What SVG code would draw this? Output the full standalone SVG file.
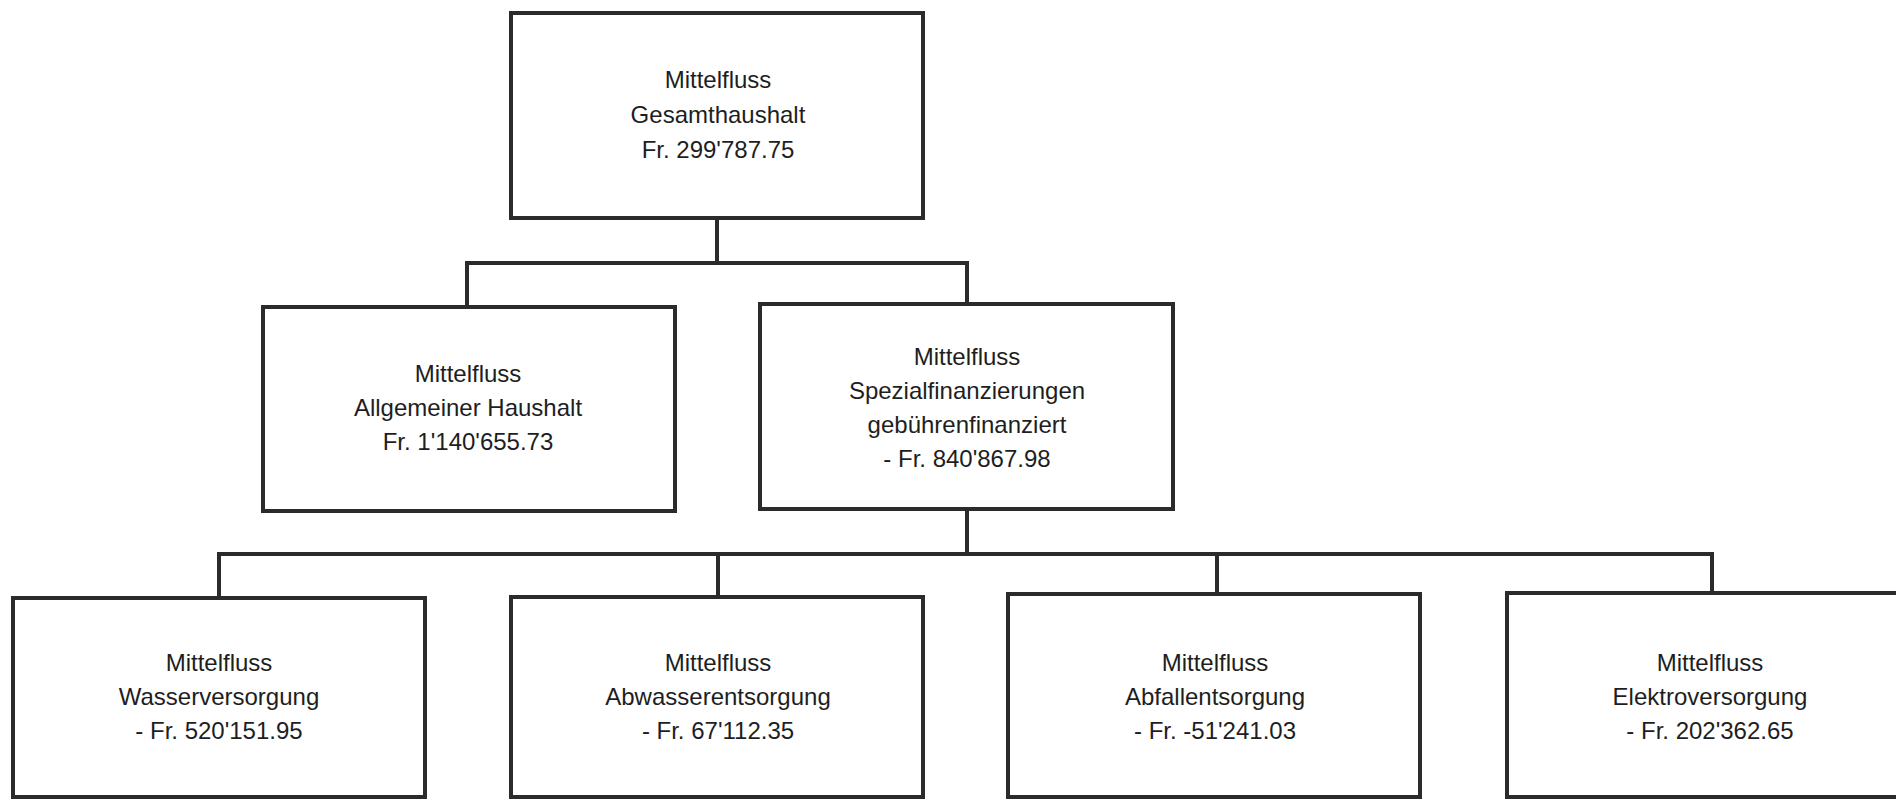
<svg xmlns="http://www.w3.org/2000/svg" width="1896" height="800" viewBox="0 0 1896 800">
<style>
.box{fill:#fff;stroke:#2b2b2b;stroke-width:4}
.con{fill:none;stroke:#2b2b2b;stroke-width:4}
text{font-family:"Liberation Sans",Arial,sans-serif;font-size:24px;fill:#1e1e1e;text-anchor:middle}
</style>
<rect width="1896" height="800" fill="#fff"/>
<g id="connectors">
<path class="con" d="M717 218V263M467 306V263H967V304"/>
<path class="con" d="M967 509V554M219 598V554H1712V593M718 554V597M1217 554V594"/>
</g>
<g id="n-gesamt"><rect class="box" x="511" y="13" width="412" height="205"/>
<text x="718" y="88">Mittelfluss</text><text x="718" y="123">Gesamthaushalt</text><text x="718" y="158">Fr. 299'787.75</text></g>
<g id="n-allgemein"><rect class="box" x="263" y="307" width="412" height="204"/>
<text x="468" y="382">Mittelfluss</text><text x="468" y="416">Allgemeiner Haushalt</text><text x="468" y="450">Fr. 1'140'655.73</text></g>
<g id="n-spezial"><rect class="box" x="760" y="304" width="413" height="205"/>
<text x="967" y="365">Mittelfluss</text><text x="967" y="399">Spezialfinanzierungen</text><text x="967" y="433">gebührenfinanziert</text><text x="967" y="467">- Fr. 840'867.98</text></g>
<g id="n-wasser"><rect class="box" x="13" y="598" width="412" height="199"/>
<text x="219" y="671">Mittelfluss</text><text x="219" y="705">Wasserversorgung</text><text x="219" y="739">- Fr. 520'151.95</text></g>
<g id="n-abwasser"><rect class="box" x="511" y="597" width="412" height="200"/>
<text x="718" y="671">Mittelfluss</text><text x="718" y="705">Abwasserentsorgung</text><text x="718" y="739">- Fr. 67'112.35</text></g>
<g id="n-abfall"><rect class="box" x="1008" y="594" width="412" height="203"/>
<text x="1215" y="671">Mittelfluss</text><text x="1215" y="705">Abfallentsorgung</text><text x="1215" y="739">- Fr. -51'241.03</text></g>
<g id="n-elektro"><rect class="box" x="1507" y="593" width="413" height="204"/>
<text x="1710" y="671">Mittelfluss</text><text x="1710" y="705">Elektroversorgung</text><text x="1710" y="739">- Fr. 202'362.65</text></g>
</svg>
